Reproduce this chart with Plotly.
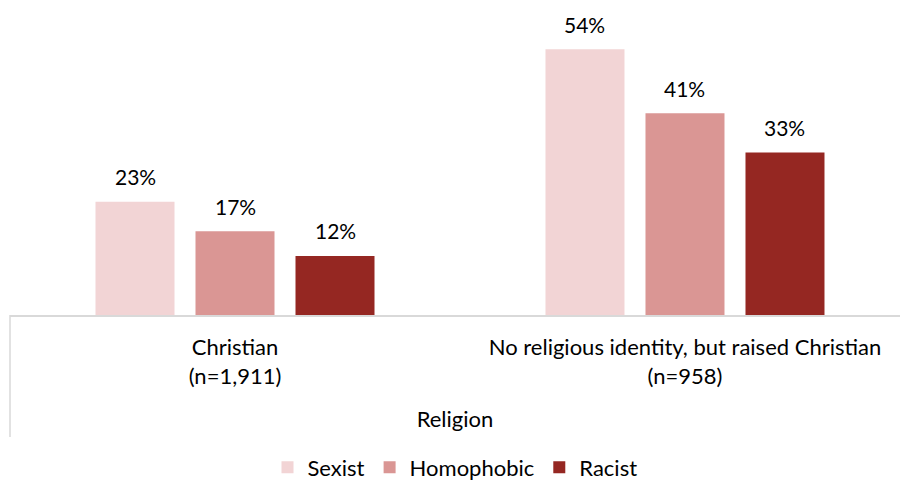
import plotly.graph_objects as go

categories = ["Christian<br>(n=1,911)", "No religious identity, but raised Christian<br>(n=958)"]
series_names = ["Sexist", "Homophobic", "Racist"]
sexist = [23, 54]
homophobic = [17, 41]
racist = [12, 33]
colors = ["#f2d4d5", "#da9694", "#952722"]

values = [sexist, homophobic, racist]
FONT = "Lato"

fig = go.Figure()
for name, vals, col in zip(series_names, values, colors):
    fig.add_trace(go.Bar(name=name, x=categories, y=vals, marker=dict(color=col, line=dict(width=0)),
                         hoverinfo="skip"))

# data labels above bars
shifts = [-100, 0, 100]
for vals, sh in zip(values, shifts):
    for c, v in zip(categories, vals):
        fig.add_annotation(x=c, y=v, xref="x", yref="y", text=f"{v}%", showarrow=False,
                           xshift=sh, yshift=25, font=dict(family=FONT, size=21, color="#000"))

fig.update_layout(
    width=900, height=483,
    margin=dict(l=10, r=0, t=0, b=168),
    plot_bgcolor="white", paper_bgcolor="white",
    barmode="group", bargap=1/3, bargroupgap=0.21,
    font=dict(family=FONT, size=22, color="#000"),
    showlegend=True,
    legend=dict(orientation="h", x=0.5, xanchor="center", yref="container", y=0.032, yanchor="middle",
                font=dict(family=FONT, size=22), itemwidth=30, traceorder="normal"),
    xaxis=dict(range=[-0.5, 1.4778], showline=True, linecolor="#d9d9d9", linewidth=1.5,
               ticks="outside", ticklen=12, tickcolor="rgba(0,0,0,0)",
               tickfont=dict(family=FONT, size=22),
               title=dict(text="Religion", font=dict(family=FONT, size=22), standoff=24),
               automargin=False),
    yaxis=dict(range=[0, 64], visible=False, showgrid=False, fixedrange=True),
)

# left border line of the category axis area
fig.add_shape(type="line", xref="paper", yref="paper", x0=0, x1=0, y0=0, y1=-122/315,
              line=dict(color="#d9d9d9", width=1.5))

fig.write_html("out.html")
